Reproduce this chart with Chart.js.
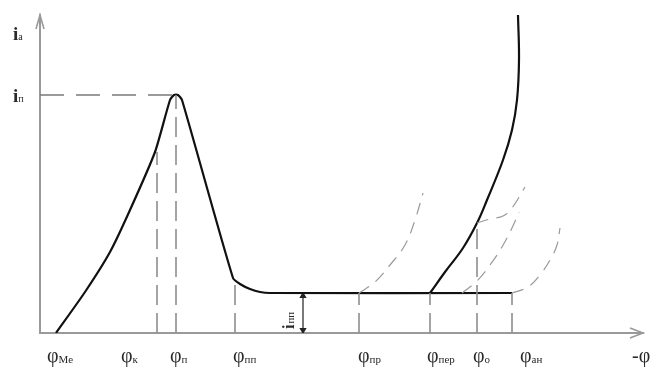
<!DOCTYPE html>
<html lang="ru">
<head>
<meta charset="UTF-8">
<title>Зависимость тока ia от угла φ</title>
<script src="https://cdn.jsdelivr.net/npm/chart.js"></script>
<style>
  html, body { margin: 0; padding: 0; background: #fff; }
  #wrap { width: 654px; height: 371px; position: relative; }
</style>
</head>
<body>
<div id="wrap"><canvas id="chart"></canvas></div>
<script>
// все значения — отсчёты от начала координат (по рисунку)
// основная кривая: подъём, пик iп, спад, полка iпп
const mainX = [16, 45, 70, 90, 115, 130, 134, 138, 142, 193, 200, 210, 220, 230, 472];
const mainY = [0, 41, 81, 123, 181, 233, 238, 238, 233, 55, 49, 44, 41, 40, 40];

// крутая кривая от φпер
const steepX = [390, 405, 423, 437, 447, 463, 472, 477, 479, 478];
const steepY = [40, 61, 85, 110, 133, 173, 203, 233, 273, 318];

// тонкие штриховые дуги
const arcPrX = [319, 335, 350, 365, 375, 383];
const arcPrY = [40, 51, 68, 88, 113, 140];
const arcOX = [437, 450, 463, 472, 485];
const arcOY = [110, 114, 117, 125, 146];
const arcMidX = [422, 437, 450, 462, 472, 479];
const arcMidY = [40, 52, 68, 86, 105, 121];
const arcAnX = [472, 488, 500, 510, 517, 520];
const arcAnY = [40, 46, 58, 73, 88, 105];

// вертикальные штриховые линии: φк, φп, φпп, φпр, φпер, φо, φан
const markX = [117, 136, 195, 319, 390, 437, 472];
const markTop = [181, 238, 51, 40, 40, 110, 40];

// уровни тока
const iPeak = 238;
const iHold = 40;
const iHoldX = 263;

// подписи оси φ
const tickPos = [7, 81, 130, 193, 318, 387, 433, 480, 592];
const tickMain = ['φ', 'φ', 'φ', 'φ', 'φ', 'φ', 'φ', 'φ', '-φ'];
const tickSub = ['Ме', 'к', 'п', 'пп', 'пр', 'пер', 'о', 'ан', ''];

const pts = (xs, ys) => xs.map((x, i) => ({ x: x, y: ys[i] }));

const datasets = [];
markX.forEach((x, i) => {
  datasets.push({
    data: [{ x: x, y: 0 }, { x: x, y: markTop[i] }],
    borderColor: '#8e8e8e', borderWidth: 1.6, borderDash: [20, 8],
    pointRadius: 0, tension: 0
  });
});
datasets.push({
  data: [{ x: 0, y: iPeak }, { x: markX[1], y: iPeak }],
  borderColor: '#7a7a7a', borderWidth: 1.5, borderDash: [24, 12],
  pointRadius: 0
});
[[arcPrX, arcPrY], [arcOX, arcOY], [arcMidX, arcMidY], [arcAnX, arcAnY]].forEach(a => {
  datasets.push({
    data: pts(a[0], a[1]),
    borderColor: '#9a9a9a', borderWidth: 1.2, borderDash: [12, 8],
    pointRadius: 0, tension: 0.4
  });
});
datasets.push({
  data: pts(mainX, mainY),
  borderColor: '#111', borderWidth: 2.2, pointRadius: 0, tension: 0.2
});
datasets.push({
  data: pts(steepX, steepY),
  borderColor: '#111', borderWidth: 2.2, pointRadius: 0, tension: 0.4
});
// стрелка iпп
datasets.push({
  data: [{ x: iHoldX, y: iHold - 3 }, { x: iHoldX, y: 3 }],
  borderColor: '#222', backgroundColor: '#222', borderWidth: 1.2,
  pointStyle: 'triangle', pointRadius: 3, pointRotation: [0, 180]
});

const labelsPlugin = {
  id: 'labels',
  afterDraw(chart) {
    const c = chart.ctx;
    const xs = chart.scales.x, ys = chart.scales.y;
    const a = chart.chartArea;
    c.save();
    // стрелки осей
    c.strokeStyle = '#9a9a9a';
    c.lineWidth = 1.6;
    c.beginPath();
    c.moveTo(a.right - 13, a.bottom - 5);
    c.lineTo(a.right, a.bottom);
    c.lineTo(a.right - 13, a.bottom + 5);
    c.moveTo(a.left - 4, a.top + 14);
    c.lineTo(a.left, a.top);
    c.lineTo(a.left + 4, a.top + 14);
    c.stroke();

    c.fillStyle = '#2a2a2a';
    c.textBaseline = 'alphabetic';
    c.textAlign = 'left';
    const base = a.bottom + 29;
    tickPos.forEach((v, i) => {
      const px = xs.getPixelForValue(v);
      c.font = '20px "Liberation Serif", serif';
      c.fillText(tickMain[i], px, base);
      const w = c.measureText(tickMain[i]).width;
      c.font = '11px "Liberation Serif", serif';
      c.fillText(tickSub[i], px + w, base + 1);
    });

    // подписи оси тока
    const yLab = (txt, sub, yv) => {
      const py = ys.getPixelForValue(yv);
      c.font = 'bold 19px "Liberation Serif", serif';
      c.fillText(txt, 13, py + 7);
      const w = c.measureText(txt).width;
      c.font = '10px "Liberation Serif", serif';
      c.fillText(sub, 13 + w, py + 7);
    };
    yLab('i', 'а', 300);
    yLab('i', 'п', iPeak);

    // iпп повернуто
    const hx = xs.getPixelForValue(iHoldX) - 9;
    const hy = ys.getPixelForValue(4);
    c.translate(hx, hy);
    c.rotate(-Math.PI / 2);
    c.font = 'bold 16px "Liberation Serif", serif';
    c.fillText('i', 0, 0);
    const wi = c.measureText('i').width;
    c.font = '11px "Liberation Serif", serif';
    c.fillText('пп', wi + 1, 0);
    c.restore();
  }
};

new Chart(document.getElementById('chart'), {
  type: 'line',
  data: { datasets: datasets },
  options: {
    responsive: true,
    maintainAspectRatio: false,
    animation: false,
    layout: { padding: { left: 40, right: 11, top: 15, bottom: 38 } },
    plugins: { legend: { display: false }, tooltip: { enabled: false } },
    scales: {
      x: {
        type: 'linear', min: 0, max: 603,
        grid: { display: false, drawTicks: false },
        ticks: { display: false },
        border: { display: true, color: '#9a9a9a', width: 2 }
      },
      y: {
        type: 'linear', min: 0, max: 318,
        grid: { display: false, drawTicks: false },
        ticks: { display: false },
        border: { display: true, color: '#9a9a9a', width: 2 }
      }
    }
  },
  plugins: [labelsPlugin]
});
</script>
</body>
</html>
